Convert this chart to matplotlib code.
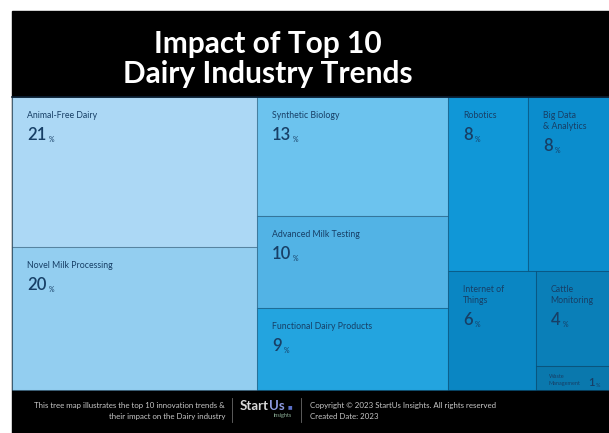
import matplotlib
matplotlib.use("Agg")
import matplotlib.pyplot as plt
from matplotlib.patches import Rectangle

# trend names and impact share (%)
trends = ["Animal-Free Dairy", "Novel Milk Processing", "Synthetic Biology",
          "Advanced Milk Testing", "Functional Dairy Products", "Robotics",
          "Big Data\n& Analytics", "Internet of\nThings", "Cattle\nMonitoring",
          "Waste\nManagement"]
impact = [21, 20, 13, 10, 9, 8, 8, 6, 4, 1]
colors = ["#acd8f5", "#93cef0", "#6cc3ee", "#52b3e5", "#23a4df",
          "#1097d7", "#0b8dcd", "#0a86c3", "#0a7fb8", "#0a78ad"]

title = "Impact of Top 10\nDairy Industry Trends"
footer_left = ("This tree map illustrates the top 10 innovation trends &\n"
               "their impact on the Dairy industry")
footer_right = ("Copyright \u00a9 2023 StartUs Insights. All rights reserved\n"
                "Created Date: 2023")

# nesting of the treemap: 'h' splits side by side, 'v' stacks top to bottom
tree = ("h", [("v", [0, 1]),
              ("v", [2, 3, 4]),
              ("v", [("h", [5, 6]), ("h", [7, ("v", [8, 9])])])])

W, H = 609, 433
fig = plt.figure(figsize=(W / 100, H / 100), dpi=100)
ax = fig.add_axes([0, 0, 1, 1])
ax.set_xlim(0, W)
ax.set_ylim(H, 0)
ax.axis("off")
fig.patch.set_facecolor("white")

# black card
ax.add_patch(Rectangle((12, 11), W - 12, H - 11, color="black", zorder=0))


def total(node):
    if isinstance(node, int):
        return impact[node]
    return sum(total(c) for c in node[1])


def layout(node, x, y, w, h, out):
    if isinstance(node, int):
        out[node] = (x, y, w, h)
        return
    kind, kids = node
    s = total(node)
    pos = 0.0
    for k in kids:
        f = total(k) / s
        if kind == "h":
            layout(k, x + pos * w, y, w * f, h, out)
        else:
            layout(k, x, y + pos * h, w, h * f, out)
        pos += f


rects = {}
layout(tree, 12, 97, W - 12, 293, rects)

navy = "#173f66"
for i, (x, y, w, h) in rects.items():
    ax.add_patch(Rectangle((x, y), w, h, facecolor=colors[i],
                           edgecolor=(0.05, 0.25, 0.4, 0.22), lw=0.8, zorder=1))
    if impact[i] < 2:
        # tiny tile: small label with the value beside it
        ax.text(x + 13, y + 8, trends[i], fontsize=4, color=navy,
                va="top", ha="left", family="Lato", linespacing=1.4, zorder=3)
        num = ax.text(x + w - 21, y + 20, f"{impact[i]}", fontsize=8,
                      fontweight="semibold", color=navy, va="baseline",
                      ha="left", family="Lato", zorder=3)
        ax.annotate("%", xy=(1, 0), xycoords=num, xytext=(1, 0),
                    textcoords="offset points", fontsize=4, color=navy,
                    va="bottom", ha="left", family="Lato", zorder=3)
        continue
    nl = trends[i].count("\n") + 1
    ax.text(x + 15, y + 14, trends[i], fontsize=6.3, color=navy,
            va="top", ha="left", family="Lato", linespacing=1.35, zorder=3)
    num = ax.text(x + 15, y + 43 + 11 * (nl - 1), f"{impact[i]}",
                  fontsize=12, fontweight="semibold", color=navy,
                  va="baseline", ha="left", family="Lato", zorder=3)
    ax.annotate("%", xy=(1, 0), xycoords=num, xytext=(1.5, 0),
                textcoords="offset points", fontsize=5, color=navy,
                va="bottom", ha="left", family="Lato", zorder=3)

ax.plot([12, W], [97, 97], color="#0b2035", lw=1.2, zorder=2)

ax.text(268, 59, title, fontsize=21.5, fontweight="bold", color="white",
        ha="center", va="center", family="Lato", linespacing=1.1)

# footer
ax.text(225, 411, footer_left, fontsize=5.7, color="#c8c8c8", ha="right",
        va="center", family="Lato", linespacing=1.55)
ax.plot([232, 232], [398, 422], color="#6a6a6a", lw=0.6)
ax.plot([301, 301], [398, 422], color="#6a6a6a", lw=0.6)
start = ax.text(240, 406, "Start", fontsize=9.5, fontweight="bold",
                color="#d9d9d9", ha="left", va="center", family="Lato")
us = ax.annotate("Us", xy=(1, 0.5), xycoords=start, xytext=(0.3, 0),
                 textcoords="offset points", fontsize=9.5, fontweight="bold",
                 color="#8e9ae0", ha="left", va="center", family="Lato")
ax.annotate("\u25a0", xy=(1, 0.5), xycoords=us, xytext=(1.5, -0.5),
            textcoords="offset points", fontsize=3.5, color="#5a6fc8",
            ha="left", va="center", family="DejaVu Sans")
ax.text(292, 416, "insights", fontsize=4, color="#8fb39a", ha="right",
        va="center", family="Lato")
ax.text(310, 411, footer_right, fontsize=5.7, color="#c8c8c8", ha="left",
        va="center", family="Lato", linespacing=1.55)

fig.savefig("out.png", dpi=100, facecolor="white")
